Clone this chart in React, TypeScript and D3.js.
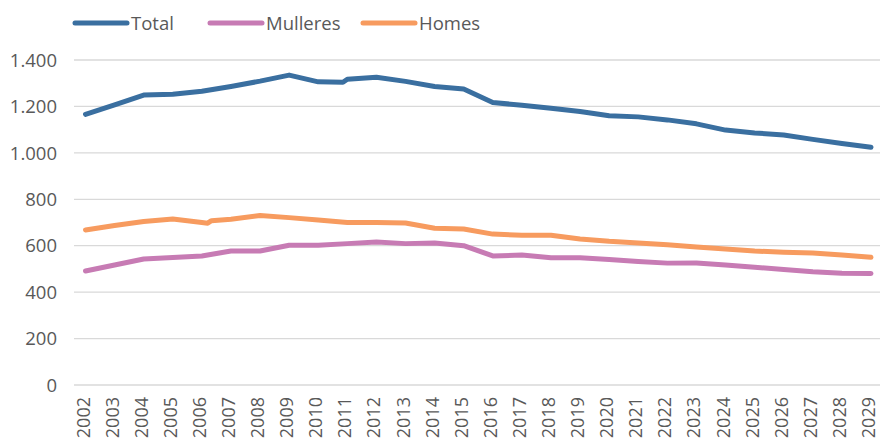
import React from "react";
import * as d3 from "d3";

const yearLabels = ["2002","2003","2004","2005","2006","2007","2008","2009","2010","2011","2012","2013","2014","2015","2016","2017","2018","2019","2020","2021","2022","2023","2024","2025","2026","2027","2028","2029"];
const yTicks = [0, 200, 400, 600, 800, 1000, 1200, 1400];

// [year, value] points
const totalSeries: [number, number][] = [
  [2002,1166],[2003,1207],[2004,1249],[2005,1252],[2006,1265],[2007,1286],[2008,1309],[2009,1335],
  [2010,1306],[2010.85,1304],[2011,1317],[2012,1326],[2013,1308],[2014,1286],[2015,1275],[2016,1217],
  [2017,1205],[2018,1192],[2019,1178],[2020,1160],[2021,1155],[2022,1142],[2023,1125],[2024,1098],
  [2025,1086],[2026,1077],[2027,1058],[2028,1040],[2029,1024]
];
const mulleresSeries: [number, number][] = [
  [2002,491],[2003,517],[2004,543],[2005,549],[2006,556],[2007,577],[2008,577],[2009,602],
  [2010,602],[2011,609],[2012,616],[2013,609],[2014,612],[2015,600],[2016,556],[2017,560],
  [2018,548],[2019,548],[2020,541],[2021,532],[2022,525],[2023,526],[2024,517],[2025,507],
  [2026,498],[2027,488],[2028,481],[2029,480]
];
const homesSeries: [number, number][] = [
  [2002,668],[2003,687],[2004,704],[2005,715],[2006,700],[2006.2,697],[2006.33,708],[2007,714],
  [2008,730],[2009,721],[2010,711],[2011,700],[2012,700],[2013,698],[2014,675],[2015,672],
  [2016,650],[2017,645],[2018,645],[2019,629],[2020,619],[2021,612],[2022,604],[2023,594],
  [2024,586],[2025,577],[2026,572],[2027,569],[2028,560],[2029,550]
];

const seriesNames = ["Total", "Mulleres", "Homes"];
const seriesColors = ["#3A6FA0", "#C77BB4", "#F79B5F"];

export default function App() {
  const W = 880, H = 444;
  const x = d3.scaleLinear().domain([2002, 2029]).range([85.5, 871]);
  const y = d3.scaleLinear().domain([0, 1400]).range([385, 60]);
  const line = d3.line<[number, number]>().x(d => x(d[0])).y(d => y(d[1]));
  const all = [totalSeries, mulleresSeries, homesSeries];
  const fmt = (v: number) => d3.format(",")(v).replace(/,/g, ".");
  const font = "'Open Sans', sans-serif";
  const txt = "#595959";
  const legendX = [75, 210, 363];

  return (
    <svg width={W} height={H} style={{ position: "absolute", left: 0, top: 0 }} fontFamily={font}>
      <rect width={W} height={H} fill="#fff" />
      {yTicks.map(t => (
        <g key={t}>
          <line x1={74} x2={880} y1={y(t)} y2={y(t)} stroke="#d9d9d9" strokeWidth={1.3} />
          <text x={57} y={y(t)} dy="0.36em" textAnchor="end" fontSize={18.5} fill={txt}>{fmt(t)}</text>
        </g>
      ))}
      {yearLabels.map(l => (
        <text key={l} transform={`translate(${x(+l) + 4},397) rotate(-90)`} textAnchor="end" fontSize={18} fill={txt}>{l}</text>
      ))}
      {all.map((s, i) => (
        <path key={i} d={line(s) || ""} fill="none" stroke={seriesColors[i]} strokeWidth={5} strokeLinejoin="round" strokeLinecap="round" />
      ))}
      {seriesNames.map((n, i) => (
        <g key={n}>
          <line x1={legendX[i]} x2={legendX[i] + 52} y1={23} y2={23} stroke={seriesColors[i]} strokeWidth={5} strokeLinecap="round" />
          <text x={legendX[i] + 56} y={23} dy="0.36em" fontSize={18.5} fill={txt}>{n}</text>
        </g>
      ))}
    </svg>
  );
}
